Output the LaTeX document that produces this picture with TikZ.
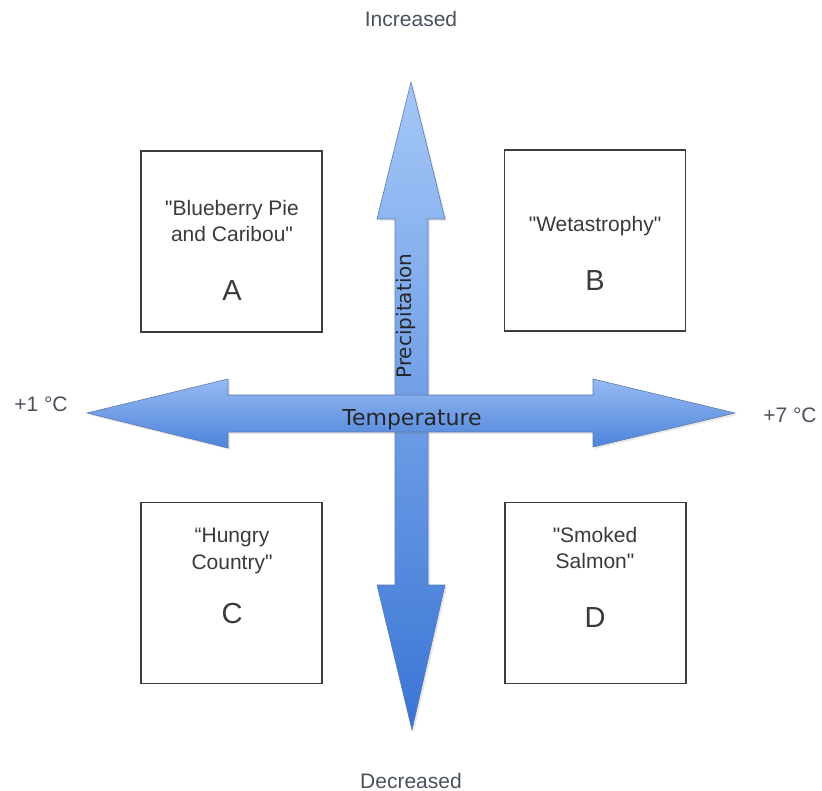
\documentclass[tikz,border=0pt]{standalone}
\usepackage{fontspec}
\setmainfont{Liberation Sans}[Ligatures=TeXOff]
\newfontfamily\arrowfont{DejaVu Sans}
\usetikzlibrary{shadows}
\definecolor{boxline}{HTML}{3C3C3C}
\definecolor{boxtext}{HTML}{3A3A3A}
\definecolor{labeltext}{HTML}{4A505E}
\definecolor{arrowline}{HTML}{5D7AAE}
\begin{document}
\begin{tikzpicture}[x=1pt,y=-1pt,
  box/.style={draw=boxline,line width=1.2pt,minimum size=181pt,inner sep=0pt},
  boxlabel/.style={anchor=base,text=boxtext,font=\fontsize{21}{25}\selectfont},
  letter/.style={anchor=base,text=boxtext,font=\fontsize{29}{32}\selectfont},
  axislabel/.style={anchor=base,text=labeltext,font=\fontsize{21}{25}\selectfont},
  arrowbody/.style={draw=arrowline,line width=0.6pt,drop shadow={opacity=0.18,shadow xshift=2pt,shadow yshift=-2pt}}]

  \useasboundingbox (0,0) rectangle (822,791);

  % the four scenarios
  \node[box] (A) at (231.5,241.5) {};
  \node[box] (B) at (595,240.5) {};
  \node[box] (C) at (231.5,593) {};
  \node[box] (D) at (595.5,593) {};

  \node[boxlabel] (A1) at (232,216) {"Blueberry Pie};
  \node[boxlabel] (A2) at (232,242) {and Caribou"};
  \node[letter] (A3) at (232,301) {A};
  \node[boxlabel] (B1) at (595,232) {"Wetastrophy"};
  \node[letter] (B2) at (595,291) {B};
  \node[boxlabel] (C1) at (232,542) {“Hungry};
  \node[boxlabel] (C2) at (232,569) {Country"};
  \node[letter] (C3) at (232,623) {C};
  \node[boxlabel] (D1) at (595,542) {"Smoked};
  \node[boxlabel] (D2) at (595,568) {Salmon"};
  \node[letter] (D3) at (595,627) {D};

  % precipitation axis
  \path[arrowbody,top color={rgb,255:red,164;green,199;blue,247},bottom color={rgb,255:red,58;green,117;blue,213}]
    (411,82) -- (445,219) -- (428,219) -- (428,585) -- (445,585) -- (412,730)
    -- (377,585) -- (395,585) -- (395,219) -- (377,219) -- cycle;
  \node[rotate=90,text=black!85,font=\arrowfont\fontsize{20}{24}\selectfont] (prec) at (406,316) {Precipitation};

  % temperature axis
  \path[arrowbody,top color={rgb,255:red,150;green,186;blue,243},bottom color={rgb,255:red,76;green,131;blue,218}]
    (87,413) -- (228,379) -- (228,395) -- (593,395) -- (593,379) -- (735,413)
    -- (593,447) -- (593,432) -- (228,432) -- (228,448) -- cycle;
  \node[anchor=base,text=black!85,font=\arrowfont\fontsize{22}{26}\selectfont] (temp) at (412,425) {Temperature};

  % axis ends
  \node[axislabel] (up) at (411,27) {Increased};
  \node[axislabel] (down) at (411,788) {Decreased};
  \node[axislabel] (cold) at (41,411) {+1 °C};
  \node[axislabel] (warm) at (790,422) {+7 °C};
\end{tikzpicture}
\end{document}
